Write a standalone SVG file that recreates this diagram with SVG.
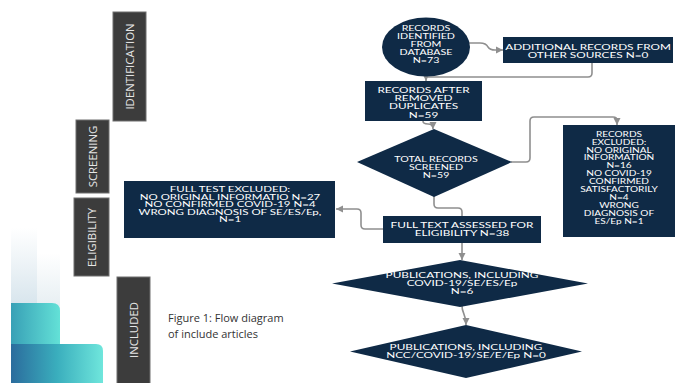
<svg xmlns="http://www.w3.org/2000/svg" width="677" height="383" viewBox="0 0 677 383">
<style>
.node{fill:#0f2a46}
.lbl{fill:#3c3c3c;stroke:#6e6e6e;stroke-width:1}
.t{font-family:Lato,"Liberation Sans",sans-serif;font-size:7.6px;fill:#ffffff;text-anchor:middle}
.s7{font-size:6.9px}
.s75{font-size:7.2px}
.s72{font-size:7.1px}
.side{font-family:"Open Sans","Liberation Sans",sans-serif;font-size:11.4px;fill:#e6e6e6;text-anchor:middle}
.cap{font-family:"Open Sans","Liberation Sans",sans-serif;font-size:11px;fill:#333333}
.con{fill:none;stroke:#8f8f8f;stroke-width:1.6}
.arr{marker-end:url(#arrow)}
</style>
<defs>
<marker id="arrow" markerUnits="userSpaceOnUse" markerWidth="8" markerHeight="8" refX="7" refY="4" orient="auto">
<path d="M0,0.5 L7,4 L0,7.5 z" fill="#8f8f8f"/>
</marker>
<linearGradient id="fade" x1="0" y1="0" x2="0" y2="1">
<stop offset="0" stop-color="#ffffff"/>
<stop offset="1" stop-color="#d6e4ec"/>
</linearGradient>
<linearGradient id="fade2" x1="0" y1="0" x2="0" y2="1">
<stop offset="0" stop-color="#ffffff"/>
<stop offset="1" stop-color="#e6eef2"/>
</linearGradient>
<linearGradient id="teal" x1="0" y1="0" x2="1" y2="0">
<stop offset="0" stop-color="#38a0b6"/>
<stop offset="1" stop-color="#63e1d7"/>
</linearGradient>
<linearGradient id="bar" x1="0" y1="0" x2="1" y2="0">
<stop offset="0" stop-color="#2b6c9d"/>
<stop offset="0.5" stop-color="#3aaebd"/>
<stop offset="1" stop-color="#6fe6dc"/>
</linearGradient>
</defs>
<rect width="677" height="383" fill="#ffffff"/>
<g id="decoration">
<rect x="11" y="228" width="26" height="80" fill="url(#fade)"/>
<rect x="37" y="253" width="23" height="55" fill="url(#fade2)"/>
<path d="M11,303 H52 Q60,303 60,311 V383 H11 z" fill="url(#teal)"/>
<path d="M11,344 H96 Q103,344 103,351 V383 H11 z" fill="url(#bar)"/>
</g>
<g id="stage-identification">
<rect class="lbl" x="113" y="12" width="33" height="109"/>
<text class="side" transform="translate(129.5,66.5) rotate(-90)" y="4">IDENTIFICATION</text>
</g>
<g id="stage-screening">
<rect class="lbl" x="76" y="120" width="33" height="73"/>
<text class="side" transform="translate(92.5,156.5) rotate(-90)" y="4">SCREENING</text>
</g>
<g id="stage-eligibility">
<rect class="lbl" x="74" y="198" width="35" height="78"/>
<text class="side" transform="translate(91.5,237.5) rotate(-90)" y="4">ELIGIBILITY</text>
</g>
<g id="stage-included">
<rect class="lbl" x="117" y="277" width="33" height="110"/>
<text class="side" transform="translate(133.5,330) rotate(-90)" y="4">INCLUDED</text>
</g>
<g id="caption">
<text class="cap" x="168" y="322">Figure 1: Flow diagram</text>
<text class="cap" x="168" y="338">of include articles</text>
</g>
<g id="connectors">
<path class="con arr" d="M469,43 H480 Q486,43 488,47 Q490,50 495,50 H503"/>
<path class="con" d="M592,63 V73 Q592,77 588,77 H426"/>
<path class="con arr" d="M426,72 V81"/>
<path class="con arr" d="M423,121 Q423,124 428,124 Q433,124 433,129"/>
<path class="con arr" d="M511,162 H526 Q530,162 530,158 V121 Q530,117 534,117 H613 Q617,117 617,120 V125"/>
<path class="con" d="M434,196 V204 Q434,208 438,208 H458 Q462,208 462,212 V216"/>
<path class="con arr" d="M383,229 H365 Q361,229 361,225 V213 Q361,209 357,209 H336"/>
<path class="con arr" d="M462,243 V260"/>
<path class="con arr" d="M462,306 C462,314 466,313 466,325"/>
</g>
<g id="records-identified">
<ellipse class="node" cx="426" cy="47" rx="44" ry="29.5"/>
<g transform="translate(426,0) scale(1.48,1)">
<text class="t s75" y="31">RECORDS</text>
<text class="t s75" y="39">IDENTIFIED</text>
<text class="t s75" y="47">FROM</text>
<text class="t s75" y="55">DATABASE</text>
<text class="t s75" y="63">N=73</text>
</g>
</g>
<g id="additional-records">
<rect class="node" x="503" y="37" width="170" height="26"/>
<g transform="translate(588,0) scale(1.55,1)">
<text class="t" y="50">ADDITIONAL RECORDS FROM</text>
<text class="t" y="58.5">OTHER SOURCES N=0</text>
</g>
</g>
<g id="records-after-duplicates">
<rect class="node" x="365" y="81" width="117" height="40"/>
<g transform="translate(423.5,0) scale(1.55,1)">
<text class="t" y="93">RECORDS AFTER</text>
<text class="t" y="101">REMOVED</text>
<text class="t" y="109.5">DUPLICATES</text>
<text class="t" y="118">N=59</text>
</g>
</g>
<g id="total-screened">
<polygon class="node" points="434,129 512,162 434,197 357,162"/>
<g transform="translate(436,0) scale(1.48,1)">
<text class="t s75" y="162">TOTAL RECORDS</text>
<text class="t s75" y="170">SCREENED</text>
<text class="t s75" y="178">N=59</text>
</g>
</g>
<g id="records-excluded">
<rect class="node" x="563" y="125" width="112" height="112"/>
<g transform="translate(619,0) scale(1.46,1)">
<text class="t s7" y="137">RECORDS</text>
<text class="t s7" y="145">EXCLUDED:</text>
<text class="t s7" y="153">NO ORIGINAL</text>
<text class="t s7" y="160.5">INFORMATION</text>
<text class="t s7" y="168.5">N=16</text>
<text class="t s7" y="176.5">NO  COVID-19</text>
<text class="t s7" y="184.5">CONFIRMED</text>
<text class="t s7" y="192">SATISFACTORILY</text>
<text class="t s7" y="200">N=4</text>
<text class="t s7" y="208">WRONG</text>
<text class="t s7" y="216">DIAGNOSIS OF</text>
<text class="t s7" y="224">ES/Ep N=1</text>
</g>
</g>
<g id="full-text-assessed">
<rect class="node" x="383" y="216" width="158" height="27"/>
<g transform="translate(462,0) scale(1.55,1)">
<text class="t" y="228">FULL TEXT ASSESSED FOR</text>
<text class="t" y="236.5">ELIGIBILITY N=38</text>
</g>
</g>
<g id="full-text-excluded">
<rect class="node" x="124" y="181" width="211" height="57"/>
<g transform="translate(230,0) scale(1.62,1)">
<text class="t s72" y="192.5">FULL TEST EXCLUDED:</text>
<text class="t s72" y="200">NO ORIGINAL INFORMATIO N=27</text>
<text class="t s72" y="207.5">NO CONFIRMED COVID-19 N=4</text>
<text class="t s72" y="215">WRONG DIAGNOSIS OF  SE/ES/Ep,</text>
<text class="t s72" y="222.5">N=1</text>
</g>
</g>
<g id="publications-1">
<polygon class="node" points="460,260 588,283.5 460,307 332,283.5"/>
<g transform="translate(462,0) scale(1.55,1)">
<text class="t" y="278.5">PUBLICATIONS, INCLUDING</text>
<text class="t" y="286.5">COVID-19/SE/ES/Ep</text>
<text class="t" y="294.5">N=6</text>
</g>
</g>
<g id="publications-2">
<polygon class="node" points="466,325 582,351.5 466,378 350,351.5"/>
<g transform="translate(466,0) scale(1.55,1)">
<text class="t" y="350">PUBLICATIONS, INCLUDING</text>
<text class="t" y="358">NCC/COVID-19/SE/E/Ep  N=0</text>
</g>
</g>
</svg>
